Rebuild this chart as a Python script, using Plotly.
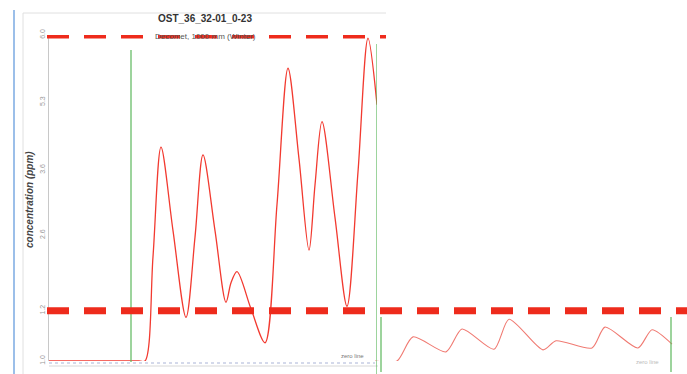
import plotly.graph_objects as go

W, H = 687, 374

# Main trace: concentration over time (seconds from start of record)
time_main = [0, 90, 96, 104, 112, 124, 137, 146, 154, 166, 177, 182, 188, 202, 216,
             228, 239, 250, 260, 266, 273, 286, 298, 309, 319, 328]
conc_main = [1.0, 1.0, 1.0, 2.6, 4.28, 3.0, 1.67, 2.9, 4.16, 3.0, 1.9, 2.2, 2.37, 1.8, 1.28,
             3.4, 5.49, 4.1, 2.7, 3.7, 4.67, 3.2, 1.84, 3.9, 5.95, 4.93]

# Follow-on trace (second record)
time_next = [0, 22, 38, 71, 87, 119, 134, 168, 181, 217, 230, 263, 277, 297]
conc_next = [1.0, 1.0, 1.37, 1.14, 1.49, 1.18, 1.64, 1.17, 1.31, 1.2, 1.52, 1.2, 1.48, 1.26]

# Event markers (green) for each record
events_main = [82, 328]
events_next = [6, 296]

# Threshold levels
upper_limit = 6.0
lower_limit = 1.77

# Y axis ticks
tick_vals = [1.0, 1.77, 2.93, 3.93, 4.97, 6.0]
tick_text = ["1.0", "1.2", "2.6", "3.6", "5.3", "6.0"]

title = "OST_36_32-01_0-23"
subtitle = "Decomet, 1000 mm (Winter)"
y_title = "concentration (ppm)"


def px(x):
    return x / W


def py(y):
    return 1 - y / H


fig = go.Figure()

fig.add_trace(go.Scatter(
    x=time_main, y=conc_main, mode="lines",
    line=dict(color="#f23a30", width=1.3, shape="spline", smoothing=0.9),
    xaxis="x", yaxis="y", showlegend=False, cliponaxis=False,
))
fig.add_trace(go.Scatter(
    x=time_next, y=conc_next, mode="lines",
    line=dict(color="#f07a72", width=1.1, shape="spline", smoothing=0.7),
    xaxis="x2", yaxis="y2", showlegend=False, cliponaxis=False,
))

y_dom = [py(361), py(35)]
fig.update_layout(
    template="none",
    width=W, height=H,
    margin=dict(l=0, r=0, t=0, b=0, pad=0, autoexpand=False),
    paper_bgcolor="white", plot_bgcolor="rgba(0,0,0,0)",
    font=dict(family="Liberation Sans, Arial, sans-serif", color="#444"),
    xaxis=dict(domain=[px(49), px(377)], range=[0, 328], showgrid=False, automargin=False,
               zeroline=False, showticklabels=False, showline=False, anchor="y"),
    yaxis=dict(domain=y_dom, range=[1.0, 6.0], showgrid=False, zeroline=False,
               automargin=False,
               tickvals=tick_vals, ticktext=tick_text, tickangle=-90,
               tickfont=dict(size=7, color="#999"), ticks="",
               showline=True, linecolor="#c8c8c8", linewidth=1, anchor="x"),
    xaxis2=dict(domain=[px(375), 1.0], range=[0, 312], showgrid=False, automargin=False,
                zeroline=False, showticklabels=False, showline=False, anchor="y2"),
    yaxis2=dict(domain=y_dom, range=[1.0, 6.0], showgrid=False, zeroline=False,
                automargin=False,
                showticklabels=False, showline=False, anchor="x2"),
)

shapes = []
# frame lines
shapes.append(dict(type="line", xref="paper", yref="paper", x0=px(14), x1=px(14),
                   y0=0, y1=py(10), line=dict(color="#9cbfe9", width=2)))
shapes.append(dict(type="line", xref="paper", yref="paper", x0=px(23), x1=px(23),
                   y0=0, y1=py(13), line=dict(color="#e0e0e0", width=1)))
shapes.append(dict(type="line", xref="paper", yref="paper", x0=px(23), x1=px(386),
                   y0=py(13), y1=py(13), line=dict(color="#e0e0e0", width=1)))
# zero line
shapes.append(dict(type="line", xref="paper", yref="paper", x0=px(49), x1=px(375),
                   y0=py(363), y1=py(363), line=dict(color="#a9b3d6", width=1, dash="dot")))
shapes.append(dict(type="line", xref="paper", yref="paper", x0=px(49), x1=px(378),
                   y0=py(366), y1=py(366), line=dict(color="#d8d8d8", width=1)))

# event markers
for t in events_main:
    last = t == events_main[-1]
    shapes.append(dict(type="line", xref="x", yref="paper", x0=t, x1=t,
                       y0=0 if last else py(362), y1=py(44 if last else 50),
                       line=dict(color="#5cb85c", width=1.2)))
for t in events_next:
    shapes.append(dict(type="line", xref="x2", yref="paper", x0=t, x1=t,
                       y0=py(372), y1=py(317),
                       line=dict(color="#5cb85c", width=1.2)))

# threshold lines
shapes.append(dict(type="line", xref="paper", yref="y", x0=px(47), x1=px(386),
                   y0=upper_limit, y1=upper_limit, layer="above",
                   line=dict(color="#ee2b1c", width=7, dash="22px,15px")))
shapes.append(dict(type="line", xref="paper", yref="y", x0=px(47), x1=1.0,
                   y0=lower_limit, y1=lower_limit, layer="above",
                   line=dict(color="#ee2b1c", width=7, dash="22px,15px")))
fig.update_layout(shapes=shapes)

narrow = "Liberation Sans Narrow, Liberation Sans, Arial"
ann = [
    dict(text="<b>" + title + "</b>", x=px(205), y=py(19),
         font=dict(size=10, color="#333", family=narrow)),
    dict(text=subtitle, x=px(205), y=py(37),
         font=dict(size=8, color="#555", family=narrow)),
    dict(text="<b><i>" + y_title + "</i></b>", x=px(29), y=py(200), textangle=-90,
         font=dict(size=10, color="#444")),
    dict(text="zero line", x=px(352), y=py(356),
         font=dict(size=6, color="#777")),
    dict(text="zero line", x=px(647), y=py(362),
         font=dict(size=6, color="#bbb")),
]
for a in ann:
    a.update(xref="paper", yref="paper", showarrow=False,
             xanchor="center", yanchor="middle")
fig.update_layout(annotations=ann)

fig.write_html("out.html")
